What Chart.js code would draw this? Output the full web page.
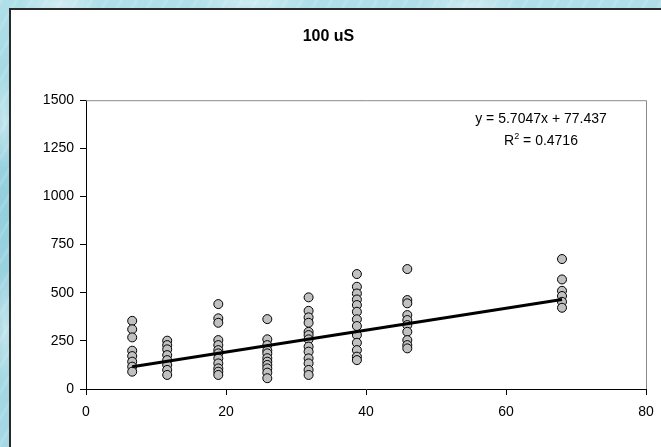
<!DOCTYPE html>
<html>
<head>
<meta charset="utf-8">
<script src="https://cdn.jsdelivr.net/npm/chart.js@4/dist/chart.umd.min.js"></script>
<style>
html,body{margin:0;padding:0;width:661px;height:447px;overflow:hidden}
body{
  background:
    radial-gradient(ellipse 40px 14px at 60px 4px, rgba(255,255,255,.45), rgba(255,255,255,0)),
    radial-gradient(ellipse 60px 12px at 250px 3px, rgba(255,255,255,.4), rgba(255,255,255,0)),
    radial-gradient(ellipse 50px 12px at 470px 5px, rgba(255,255,255,.4), rgba(255,255,255,0)),
    radial-gradient(ellipse 10px 50px at 4px 120px, rgba(255,255,255,.4), rgba(255,255,255,0)),
    radial-gradient(ellipse 10px 60px at 5px 330px, rgba(255,255,255,.4), rgba(255,255,255,0)),
    repeating-linear-gradient(120deg, rgba(255,255,255,.12) 0 3px, rgba(255,255,255,0) 3px 13px),
    linear-gradient(180deg,#b0dfe9,#93cfdd 45%,#a6d9e5);
}
#panel{position:absolute;left:9px;top:8px;width:720px;height:520px;background:#fff;
  border-left:2px solid #2a2a2a;border-top:2px solid #2a2a2a}
#wrap{position:absolute;left:0;top:0;width:670px;height:437px}
</style>
</head>
<body>
<div id="panel"><div id="wrap"><canvas id="chart"></canvas></div></div>
<script>
// mesures regroupées par colonne x
var xCols=[6.6, 11.6, 18.9, 25.9, 31.8, 38.7, 45.9, 68]
var yCols=[
  [354, 310, 268, 199, 171, 142, 116, 90],
  [251, 228, 206, 176, 150, 125, 99, 73],
  [441, 367, 344, 254, 228, 202, 185, 159, 133, 107, 90, 73],
  [363, 258, 228, 200, 185, 160, 142, 125, 107, 85, 56],
  [476, 406, 372, 344, 297, 280, 258, 220, 194, 159, 133, 99, 73],
  [597, 531, 496, 465, 436, 401, 362, 327, 280, 240, 202, 168, 150],
  [623, 462, 445, 384, 358, 332, 297, 254, 228, 211],
  [675, 569, 510, 483, 453, 422]
]
// droite de tendance : y = slope*x + intercept
var slope=5.7047
var intercept=77.437
var r2="0.4716"
var xTicks=[0, 20, 40, 60, 80]
var yTicks=[0, 250, 500, 750, 1000, 1250, 1500]

var points=[]
for(var i=0;i<xCols.length;i++){
    for(var j=0;j<yCols[i].length;j++){
        points.push({x:xCols[i], y:yCols[i][j]})
    }
}
var xMin=Math.min.apply(null,xCols)
var xMax=Math.max.apply(null,xCols)
var trend=[{x:xMin, y:slope*xMin+intercept},{x:xMax, y:slope*xMax+intercept}]

const frame={ // bord gris en haut et a droite de la zone de tracé
    id:'frame',
    beforeDatasetsDraw:(chart)=>{
        const {ctx, chartArea:a}=chart
        ctx.save()
        ctx.strokeStyle='#8a8a8a'
        ctx.lineWidth=1
        ctx.beginPath()
        ctx.moveTo(a.left, a.top+0.5)
        ctx.lineTo(a.right+0.5, a.top+0.5)
        ctx.lineTo(a.right+0.5, a.bottom)
        ctx.stroke()
        ctx.restore()
    }
}

const equation={ // étiquette de la droite de tendance
    id:'equation',
    afterDraw:(chart)=>{
        const {ctx, chartArea:a}=chart
        const cx=a.left+455
        ctx.save()
        ctx.fillStyle='#000'
        ctx.textBaseline='middle'
        ctx.font='14px Arial, "Liberation Sans"'
        var l1='y = '+slope+'x + '+intercept
        ctx.textAlign='left'
        ctx.fillText(l1, cx-ctx.measureText(l1).width/2, a.top+19)
        var p1='R', p3=' = '+r2
        var w1=ctx.measureText(p1).width, w3=ctx.measureText(p3).width
        ctx.font='9px Arial, "Liberation Sans"'
        var w2=ctx.measureText('2').width
        var x0=cx-(w1+w2+w3)/2
        ctx.font='14px Arial, "Liberation Sans"'
        ctx.fillText(p1, x0, a.top+41)
        ctx.fillText(p3, x0+w1+w2, a.top+41)
        ctx.font='9px Arial, "Liberation Sans"'
        ctx.fillText('2', x0+w1, a.top+36)
        ctx.restore()
    }
}

var tickFont={family:'Arial, "Liberation Sans"', size:14}

var chart=new Chart(document.getElementById('chart'),{
    type:'scatter',
    data:{
        datasets:[{
            type:'line',
            data:trend,
            borderColor:'#000',
            borderWidth:3,
            pointRadius:0,
            fill:false,
            order:0
        },{
            data:points,
            backgroundColor:'#c0c0c0',
            borderColor:'#000',
            borderWidth:1,
            pointRadius:4.5,
            order:1
        }]
    },
    options:{
        responsive:true,
        maintainAspectRatio:false,
        animation:false,
        layout:{padding:{left:0, right:35, top:0, bottom:0}},
        plugins:{
            legend:{display:false},
            tooltip:{enabled:false},
            title:{
                display:true,
                text:'100 uS',
                color:'#000',
                font:{family:'Arial, "Liberation Sans"', size:16, weight:'bold'},
                padding:{top:17, bottom:54}
            }
        },
        scales:{
            x:{
                type:'linear',
                min:0, max:80,
                afterBuildTicks:(s)=>{s.ticks=xTicks.map(v=>({value:v}))},
                afterFit:(s)=>{s.height=58},
                border:{color:'#000', width:1},
                grid:{drawOnChartArea:false, tickLength:6, tickColor:'#000'},
                ticks:{color:'#000', font:tickFont, padding:9, maxRotation:0, callback:(v)=>String(v)}
            },
            y:{
                min:0, max:1500,
                afterBuildTicks:(s)=>{s.ticks=yTicks.map(v=>({value:v}))},
                afterFit:(s)=>{s.width=75},
                border:{color:'#000', width:1},
                grid:{drawOnChartArea:false, tickLength:6, tickColor:'#000'},
                ticks:{color:'#000', font:tickFont, padding:6, callback:(v)=>String(v)}
            }
        }
    },
    plugins:[frame, equation]
})
</script>
</body>
</html>
